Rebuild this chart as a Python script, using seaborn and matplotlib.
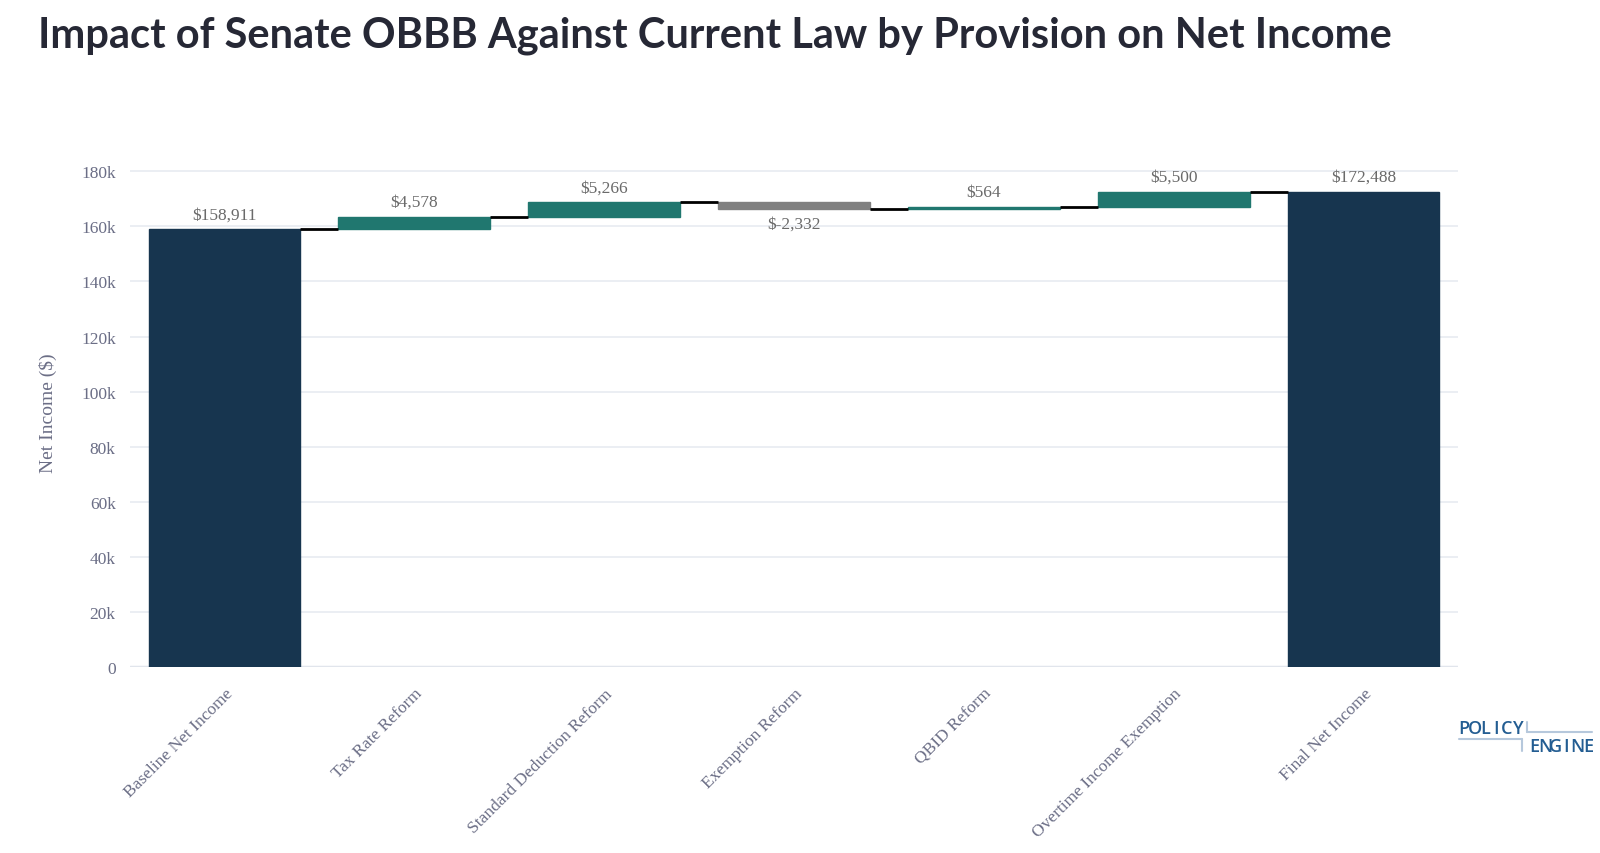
import matplotlib
matplotlib.use("Agg")
import matplotlib.pyplot as plt
import numpy as np
import pandas as pd
import seaborn as sns
from matplotlib.lines import Line2D

# Waterfall data
steps = ["Baseline Net Income", "Tax Rate Reform", "Standard Deduction Reform",
         "Exemption Reform", "QBID Reform", "Overtime Income Exemption", "Final Net Income"]
changes = [158911, 4578, 5266, -2332, 564, 5500, 172488]
kinds = ["total", "delta", "delta", "delta", "delta", "delta", "total"]
y_ticks = [0, 20000, 40000, 60000, 80000, 100000, 120000, 140000, 160000, 180000]
y_tick_labels = ["0", "20k", "40k", "60k", "80k", "100k", "120k", "140k", "160k", "180k"]

navy = "#17354f"
teal = "#20776f"
grey = "#808080"
tick_col = "#6b6e86"

# compute bar bottoms from running total
bottoms, heights, colors = [], [], []
running = 0
for c, k in zip(changes, kinds):
    if k == "total":
        bottoms.append(0)
        heights.append(c)
        colors.append(navy)
        running = c
    else:
        lo = min(running, running + c)
        bottoms.append(lo)
        heights.append(abs(c))
        colors.append(teal if c > 0 else grey)
        running += c

df = pd.DataFrame({"step": steps, "height": heights})

sns.set_theme(style="white")
plt.rcParams["font.family"] = ["Liberation Serif", "DejaVu Serif"]

fig = plt.figure(figsize=(16, 8.54), dpi=100)
ax = fig.add_axes([0.081, 0.2175, 0.8305, 0.597])

sns.barplot(data=df, x="step", y="height", hue="step", palette=colors,
            legend=False, width=0.8, saturation=1, ax=ax, zorder=3)

for p, b, c in zip(ax.patches, bottoms, colors):
    p.set_y(b)
    p.set_edgecolor(c)

ax.set_ylim(0, 185000)
ax.set_xlim(-0.5, len(steps) - 0.5)

# connectors
running = 0
for i, (c, k) in enumerate(zip(changes, kinds)):
    level = c if k == "total" else running + c
    running = level
    if i < len(steps) - 1:
        ax.plot([i + 0.4, i + 0.6], [level, level], color="black", lw=2, zorder=4,
                solid_capstyle="butt")

# value labels
for i, (c, b, h) in enumerate(zip(changes, bottoms, heights)):
    txt = f"${c:,}"
    if c >= 0:
        ax.annotate(txt, (i, b + h), xytext=(0, 5), textcoords="offset points",
                    ha="center", va="bottom", fontsize=12.5, color="#6a6a6a")
    else:
        ax.annotate(txt, (i, b), xytext=(0, -5), textcoords="offset points",
                    ha="center", va="top", fontsize=12.5, color="#6a6a6a")

ax.set_yticks(y_ticks)
ax.set_yticklabels(y_tick_labels)
ax.grid(axis="y", color="#e8ebf1", lw=1.2, zorder=0)
ax.axhline(0, color="#e1e5ec", lw=2.5, zorder=1)
sns.despine(ax=ax, left=True, bottom=True)
ax.tick_params(axis="both", length=0, labelsize=12.5, labelcolor=tick_col)
ax.tick_params(axis="y", pad=10)
ax.tick_params(axis="x", pad=13)
plt.setp(ax.get_xticklabels(), rotation=45, ha="right", rotation_mode="anchor")
ax.set_xlabel("")
ax.set_ylabel("Net Income ($)", fontsize=14, color=tick_col, labelpad=17)

fig.text(0.024, 0.958, "Impact of Senate OBBB Against Current Law by Provision on Net Income",
         fontsize=30, fontweight="bold", family=["Lato", "DejaVu Sans"],
         color="#262835", va="center", ha="left")

# logo, letters spaced out one by one
blue = "#235d92"
light = "#b6c8dc"
step_x = 0.00672
for word, x0, y0 in [("POLICY", 0.9115, 0.146), ("ENGINE", 0.9555, 0.1255)]:
    for j, ch in enumerate(word):
        fig.text(x0 + j * step_x + step_x / 2, y0, ch, fontsize=13, fontweight=600,
                 color=blue, family=["Open Sans", "DejaVu Sans"], va="center", ha="center")
fig.add_artist(Line2D([0.912, 0.951], [0.1335, 0.1335], color=light, lw=1.5))
fig.add_artist(Line2D([0.951, 0.951], [0.1335, 0.119], color=light, lw=1.5))
fig.add_artist(Line2D([0.9545, 0.9545], [0.153, 0.1417], color=light, lw=1.5))
fig.add_artist(Line2D([0.9545, 0.995], [0.1417, 0.1417], color=light, lw=1.5))

fig.savefig("out.png", dpi=100, facecolor="white")
